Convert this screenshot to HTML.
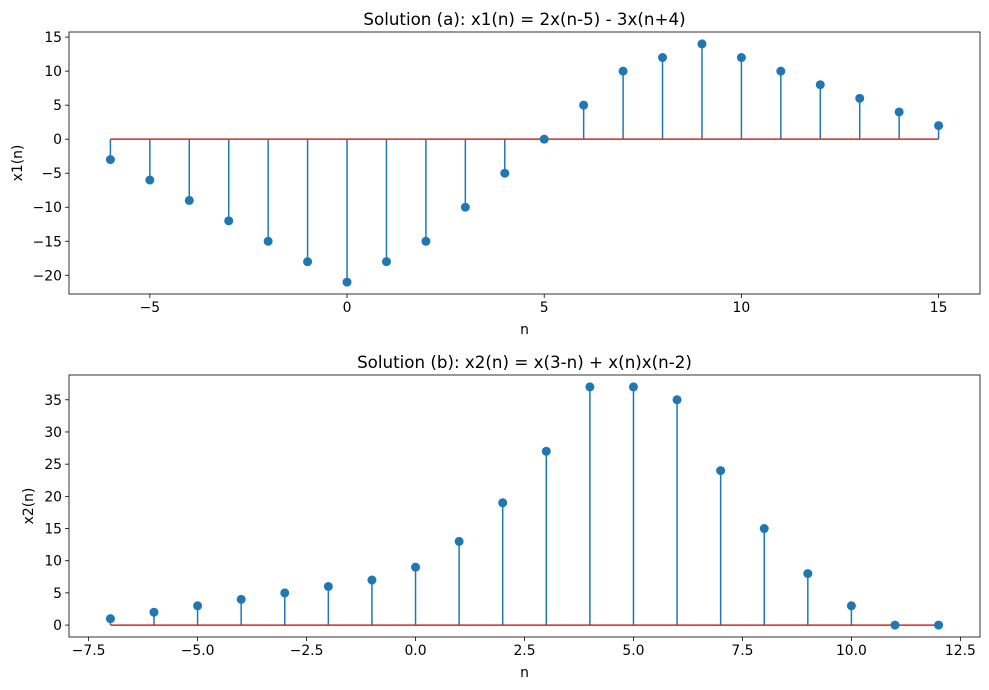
<!DOCTYPE html>
<html><head><meta charset="utf-8"><style>
html,body{margin:0;padding:0;background:#fff;}
svg{display:block;font-family:"DejaVu Sans","Liberation Sans",sans-serif;}
</style></head><body>
<svg id="chart" width="989" height="690" viewBox="0 0 989 690"></svg>
<script>
const nA = [-6,-5,-4,-3,-2,-1,0,1,2,3,4,5,6,7,8,9,10,11,12,13,14,15];
const valuesA = [-3,-6,-9,-12,-15,-18,-21,-18,-15,-10,-5,0,5,10,12,14,12,10,8,6,4,2];
const xTicksA = [-5,0,5,10,15];
const yTicksA = [-20,-15,-10,-5,0,5,10,15];
const nB = [-7,-6,-5,-4,-3,-2,-1,0,1,2,3,4,5,6,7,8,9,10,11,12];
const valuesB = [1,2,3,4,5,6,7,9,13,19,27,37,37,35,24,15,8,3,0,0];
const xTicksB = [-7.5,-5.0,-2.5,0.0,2.5,5.0,7.5,10.0,12.5];
const yTicksB = [0,5,10,15,20,25,30,35];

const NS = "http://www.w3.org/2000/svg";
const svg = document.getElementById('chart');
function mk(tag, attrs, parent){
  const e = document.createElementNS(NS, tag);
  for (const k in attrs) e.setAttribute(k, attrs[k]);
  (parent||svg).appendChild(e);
  return e;
}
function fmt(v, dec){ return (v<0?'\u2212':'') + Math.abs(v).toFixed(dec); }

function panel(cfg){
  const g = mk('g', {});
  
  
  const {L,T,W,H,ns,vals} = cfg;
  const xmin = Math.min(...ns), xmax = Math.max(...ns);
  const ymin = Math.min(0,...vals), ymax = Math.max(0,...vals);
  const xm = (xmax-xmin)*0.05, ym = (ymax-ymin)*0.05;
  const x0 = xmin-xm, x1 = xmax+xm, y0 = ymin-ym, y1 = ymax+ym;
  const X = v => L + (v-x0)/(x1-x0)*W;
  const Y = v => T + H - (v-y0)/(y1-y0)*H;
  cfg.xt.forEach(t=>{
    const tk = mk('line',{x1:X(t),x2:X(t),y1:T+H,y2:T+H+4,stroke:'#000','stroke-width':0.8},g);
    
    
    const tl = mk('text',{x:X(t),y:T+H+18,'text-anchor':'middle','font-size':13.9,fill:'#000'},g);
    
    
    tl.textContent = fmt(t,cfg.xdec);
  });
  cfg.yt.forEach(t=>{
    const tk = mk('line',{x1:L-4,x2:L,y1:Y(t),y2:Y(t),stroke:'#000','stroke-width':0.8},g);
    
    
    const tl = mk('text',{x:L-7,y:Y(t)+5,'text-anchor':'end','font-size':13.9,fill:'#000'},g);
    
    
    tl.textContent = fmt(t,0);
  });
  ns.forEach((n,i)=>{
    const s = mk('line',{x1:X(n),x2:X(n),y1:Y(0),y2:Y(vals[i]),stroke:'#1f77b4','stroke-width':1.5},g);
    
    
  });
  const bl = mk('line',{x1:X(xmin),x2:X(xmax),y1:Y(0),y2:Y(0),stroke:'#d62728','stroke-width':1.5},g);
  
  
  ns.forEach((n,i)=>{
    const c = mk('circle',{cx:X(n),cy:Y(vals[i]),r:4.5,fill:'#1f77b4'},g);
    
    
  });
  const fr = mk('rect',{x:L,y:T,width:W,height:H,fill:'none',stroke:'#000','stroke-width':0.8},g);
  
  
  const ti = mk('text',{x:L+W/2,y:T-7,'text-anchor':'middle','font-size':16.7,fill:'#000'},g);
  
  
  ti.textContent = cfg.title;
  const xl = mk('text',{x:L+W/2,y:T+H+40,'text-anchor':'middle','font-size':13.9,fill:'#000'},g);
  
  
  xl.textContent = 'n';
  const yl = mk('text',{x:0,y:0,'text-anchor':'middle','font-size':13.9,fill:'#000',transform:`translate(${cfg.ylx},${T+H/2}) rotate(-90)`},g);
  
  
  yl.textContent = cfg.ylabel;
}
panel({name:'panel-a',L:69,T:32,W:911,H:262,ns:nA,vals:valuesA,xt:xTicksA,yt:yTicksA,xdec:0,
  title:'Solution (a): x1(n) = 2x(n-5) - 3x(n+4)',ylabel:'x1(n)',ylx:22});
panel({name:'panel-b',L:69,T:375,W:911,H:262,ns:nB,vals:valuesB,xt:xTicksB,yt:yTicksB,xdec:1,
  title:'Solution (b): x2(n) = x(3-n) + x(n)x(n-2)',ylabel:'x2(n)',ylx:33});
</script>
</body></html>
